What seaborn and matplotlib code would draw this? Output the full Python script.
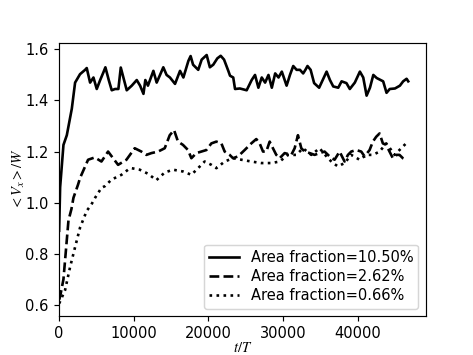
import numpy as np
import pandas as pd
import matplotlib
matplotlib.use("Agg")
import matplotlib.pyplot as plt
import seaborn as sns

# values (t/T, <Vx>/W)
t_high = [0, 134, 580, 1030, 1700, 2140, 2800, 3480, 3700, 4150, 4600, 5040, 5500,
          5930, 6200, 6650, 7050, 7500, 7940, 8260, 8700, 9060, 9730, 10400, 10850,
          11300, 11550, 11900, 12630, 13070, 13520, 13960, 14400, 14850, 15530, 16200,
          16650, 17320, 17620, 17950, 18640, 19100, 19770, 20200, 20650, 21200, 21650,
          22100, 22670, 22900, 23330, 23570, 24220, 25130, 25800, 26250, 26700, 27150,
          27600, 28050, 28500, 28950, 29400, 29840, 30480, 30930, 31370, 31820, 32270,
          32700, 33000, 33280, 33700, 34170, 34840, 35840, 36290, 36730, 37400, 37850,
          38500, 38950, 39620, 40300, 40750, 41200, 41650, 42100, 42550, 43420, 43870,
          44300, 45000, 45660, 46100, 46560, 46780]
v_high = [0.89, 1.06, 1.226, 1.264, 1.368, 1.47, 1.503, 1.52, 1.527, 1.47, 1.49, 1.445,
          1.48, 1.51, 1.53, 1.48, 1.44, 1.445, 1.445, 1.529, 1.48, 1.44, 1.458, 1.48,
          1.458, 1.426, 1.48, 1.458, 1.516, 1.47, 1.50, 1.53, 1.50, 1.49, 1.465, 1.516,
          1.49, 1.555, 1.574, 1.54, 1.52, 1.56, 1.578, 1.53, 1.54, 1.565, 1.575, 1.56,
          1.516, 1.497, 1.49, 1.445, 1.447, 1.44, 1.48, 1.5, 1.45, 1.49, 1.47, 1.5,
          1.45, 1.506, 1.49, 1.513, 1.458, 1.5, 1.535, 1.52, 1.52, 1.506, 1.52, 1.535,
          1.52, 1.468, 1.45, 1.513, 1.48, 1.455, 1.45, 1.475, 1.468, 1.445, 1.47, 1.513,
          1.49, 1.419, 1.45, 1.5, 1.488, 1.475, 1.43, 1.445, 1.447, 1.458, 1.475, 1.485,
          1.475]

t_mid = [0, 130, 580, 1250, 1650, 1920, 2540, 2810, 3880, 4780, 5670, 6560, 7230, 7900,
         9020, 10130, 11020, 11690, 12370, 13260, 14150, 14820, 15400, 15930, 16600,
         17270, 17720, 18390, 19060, 19730, 20400, 21070, 21740, 22180, 22850, 23300,
         23970, 24860, 25750, 26420, 26870, 27320, 27760, 28210, 28650, 29100, 29550,
         30220, 31110, 31560, 32000, 32450, 32900, 33570, 34230, 34900, 35570, 36240,
         36910, 37580, 38250, 38700, 39140, 39810, 40480, 40930, 41600, 42040, 42490,
         42940, 43380, 43830, 44270, 44720, 45160, 45610, 46060, 46500]
v_mid = [0.62, 0.632, 0.70, 0.93, 0.975, 1.019, 1.071, 1.097, 1.168, 1.177, 1.161, 1.2,
         1.174, 1.148, 1.168, 1.213, 1.2, 1.187, 1.194, 1.2, 1.213, 1.264, 1.284, 1.239,
         1.226, 1.206, 1.174, 1.194, 1.2, 1.206, 1.232, 1.239, 1.232, 1.2, 1.187, 1.174,
         1.181, 1.206, 1.232, 1.249, 1.232, 1.2, 1.2, 1.239, 1.213, 1.187, 1.174, 1.194,
         1.187, 1.213, 1.264, 1.213, 1.2, 1.194, 1.187, 1.194, 1.2, 1.181, 1.168, 1.2,
         1.161, 1.187, 1.2, 1.206, 1.2, 1.181, 1.206, 1.239, 1.258, 1.271, 1.232, 1.226,
         1.2, 1.174, 1.187, 1.187, 1.174, 1.168]

t_low = [0, 130, 800, 1470, 2140, 2810, 3700, 4330, 4820, 5670, 6160, 7010, 7500, 8350,
         9280, 9680, 10800, 11920, 13030, 14150, 15260, 16600, 17720, 18620, 19500,
         20400, 21070, 22180, 23300, 24420, 25750, 27090, 28430, 29550, 30660, 31780,
         32670, 33790, 34900, 36020, 36690, 37360, 38250, 39140, 40260, 41150, 42040,
         42940, 43830, 44500, 44950, 45840, 46730]
v_low = [0.605, 0.613, 0.658, 0.748, 0.826, 0.903, 0.968, 0.993, 1.019, 1.058, 1.065,
         1.09, 1.097, 1.109, 1.13, 1.135, 1.129, 1.113, 1.088, 1.118, 1.129, 1.122, 1.109,
         1.135, 1.161, 1.148, 1.135, 1.161, 1.174, 1.168, 1.161, 1.155, 1.155, 1.161,
         1.187, 1.187, 1.213, 1.187, 1.213, 1.174, 1.155, 1.142, 1.155, 1.187, 1.168,
         1.187, 1.187, 1.2, 1.232, 1.206, 1.187, 1.213, 1.239]

labels = ["Area fraction=10.50%", "Area fraction=2.62%", "Area fraction=0.66%"]

plt.rcParams["mathtext.fontset"] = "stix"

dpi = 105.7
fig, ax = plt.subplots(figsize=(473 / dpi, 355 / dpi), dpi=dpi)
sns.lineplot(x=t_high, y=v_high, ax=ax, color="k", linestyle="-", linewidth=1.8, label=labels[0])
sns.lineplot(x=t_mid, y=v_mid, ax=ax, color="k", linestyle="--", linewidth=1.8, label=labels[1])
sns.lineplot(x=t_low, y=v_low, ax=ax, color="k", linestyle=":", linewidth=1.8, label=labels[2])

ax.set_xlim(left=0)
ax.set_xlabel("$t/T$", fontsize=10, labelpad=-1)
ax.set_ylabel("$<V_x>/W$", fontsize=10, labelpad=-1)
ax.legend(loc="lower right", labelspacing=0.3, borderpad=0.35)

fig.savefig("out.png", dpi=dpi)
